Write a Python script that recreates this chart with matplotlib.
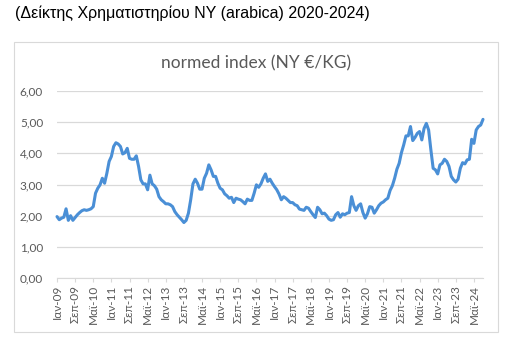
import matplotlib
matplotlib.use('Agg')

import matplotlib.pyplot as plt
import numpy as np
from matplotlib.patches import Rectangle

# monthly values Jan-09 .. Sep-24
values = [
    1.97, 1.87, 1.92, 1.95, 2.22, 1.85, 2.00, 1.85, 1.94, 2.03, 2.10, 2.16,
    2.19, 2.17, 2.19, 2.22, 2.29, 2.72, 2.88, 2.99, 3.20, 3.04, 3.36, 3.74,
    3.90, 4.22, 4.34, 4.30, 4.22, 3.98, 4.02, 4.16, 3.84, 3.81, 3.81, 3.92,
    3.58, 3.15, 3.02, 3.02, 2.83, 3.30, 3.02, 2.96, 2.85, 2.61, 2.51, 2.45,
    2.38, 2.38, 2.35, 2.29, 2.13, 2.03, 1.95, 1.87, 1.78, 1.85, 2.08, 2.51,
    3.02, 3.17, 3.04, 2.85, 2.85, 3.20, 3.36, 3.63, 3.47, 3.26, 3.26, 3.04,
    2.88, 2.83, 2.70, 2.64, 2.56, 2.59, 2.42, 2.56, 2.53, 2.51, 2.45, 2.38,
    2.53, 2.49, 2.49, 2.72, 2.99, 2.91, 3.02, 3.20, 3.34, 3.10, 3.17, 3.04,
    2.93, 2.83, 2.69, 2.51, 2.61, 2.56, 2.49, 2.42, 2.42, 2.35, 2.32, 2.21,
    2.19, 2.17, 2.27, 2.24, 2.13, 2.03, 1.94, 2.27, 2.19, 2.06, 2.08, 2.00,
    1.89, 1.85, 1.87, 2.03, 2.10, 1.95, 2.06, 2.03, 2.08, 2.10, 2.61, 2.32,
    2.17, 2.32, 2.38, 2.10, 1.92, 2.06, 2.29, 2.27, 2.08, 2.19, 2.32, 2.40,
    2.44, 2.51, 2.56, 2.81, 2.96, 3.20, 3.49, 3.68, 4.02, 4.27, 4.56, 4.56,
    4.86, 4.41, 4.51, 4.64, 4.70, 4.43, 4.80, 4.96, 4.75, 4.11, 3.52, 3.47,
    3.34, 3.63, 3.68, 3.81, 3.74, 3.58, 3.26, 3.15, 3.08, 3.17, 3.52, 3.70,
    3.66, 3.79, 3.81, 4.45, 4.32, 4.75, 4.86, 4.91, 5.09,
]

month_names = ['Ιαν', 'Φεβ', 'Μαρ', 'Απρ', 'Μαϊ', 'Ιουν',
               'Ιουλ', 'Αυγ', 'Σεπ', 'Οκτ', 'Νοε', 'Δεκ']
tick_step = 8
y_ticks = [0, 1, 2, 3, 4, 5, 6]

x = np.arange(len(values))
tick_pos = np.arange(0, len(values), tick_step)
tick_labels = [f"{month_names[m % 12]}-{9 + m // 12:02d}" for m in tick_pos]

fig = plt.figure(figsize=(5.19, 3.43), dpi=100)
fig.patch.set_facecolor('white')

# chart frame
fig.patches.append(Rectangle((14 / 519, 1 - 332 / 343), 484 / 519, 290 / 343,
                             transform=fig.transFigure, fill=False,
                             edgecolor='#d9d9d9', linewidth=0.8))

fig.text(15 / 519, 1 - 13 / 343, '(Δείκτης Χρηματιστηρίου NY (arabica) 2020-2024)',
         family='Liberation Sans', fontsize=11.5, color='black', va='center')
fig.text(256 / 519, 1 - 63 / 343, 'normed index (NY €/KG)',
         family='Lato', fontsize=12.5, color='#595959', ha='center', va='center')

ax = fig.add_axes([57 / 519, 1 - 278 / 343, 426 / 519, 187 / 343])
ax.plot(x, values, color='#4a8fd6', linewidth=2.2, solid_joinstyle='round',
        solid_capstyle='round', clip_on=False)

ax.set_xlim(0, len(values) - 1)
ax.set_ylim(0, 6)
ax.set_yticks(y_ticks)
ax.set_yticklabels([f"{v:.2f}".replace('.', ',') for v in y_ticks],
                   family='Lato', fontsize=8.5, color='#595959')
ax.set_xticks(tick_pos)
ax.set_xticklabels(tick_labels, rotation=90, family='Lato', fontsize=8.5,
                   color='#595959')

ax.grid(True, axis='y', color='#d9d9d9', linewidth=0.9)
ax.set_axisbelow(True)
for side in ['top', 'right', 'left']:
    ax.spines[side].set_visible(False)
ax.spines['bottom'].set_color('#d9d9d9')
ax.tick_params(axis='y', length=0, pad=10)
ax.tick_params(axis='x', length=3, color='#d9d9d9', pad=2)

fig.savefig('out.png', dpi=100)
